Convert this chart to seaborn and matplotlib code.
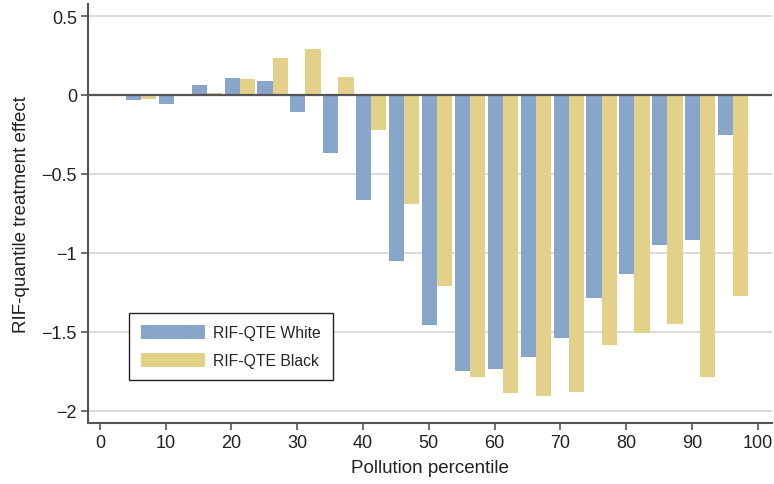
import matplotlib
matplotlib.use("Agg")
import matplotlib.pyplot as plt
import seaborn as sns
import pandas as pd

# RIF-QTE estimates by pollution percentile
percentiles = [5, 10, 15, 20, 25, 30, 35, 40, 45, 50, 55, 60, 65, 70, 75, 80, 85, 90, 95]
qte_white = [-0.03, -0.055, 0.063, 0.107, 0.089, -0.106, -0.365, -0.665, -1.05, -1.456,
             -1.747, -1.732, -1.658, -1.538, -1.285, -1.133, -0.947, -0.916, -0.251]
qte_black = [-0.025, 0.0, 0.01, 0.10, 0.234, 0.291, 0.114, -0.22, -0.69, -1.209,
             -1.785, -1.884, -1.903, -1.878, -1.58, -1.504, -1.449, -1.785, -1.272]
groups = ["RIF-QTE White", "RIF-QTE Black"]
colors = ["#88a6c9", "#e3d18a"]

# black bars sit right next to the white ones
offset = 2.3
df = pd.concat([
    pd.DataFrame({"pct": [p + 0.1 for p in percentiles], "qte": qte_white, "group": groups[0]}),
    pd.DataFrame({"pct": [p + 0.1 + offset for p in percentiles], "qte": qte_black, "group": groups[1]}),
], ignore_index=True)

sns.set_style("white")
plt.rcParams["font.family"] = ["Liberation Sans", "DejaVu Sans"]

fig = plt.figure(figsize=(7.74, 4.85), dpi=100)
ax = fig.add_axes([0.1137, 0.1258, 0.997 - 0.1137, 0.9897 - 0.1258])

sns.barplot(data=df, x="pct", y="qte", hue="group", hue_order=groups,
            palette=colors, native_scale=True, dodge=False, width=1.0,
            errorbar=None, saturation=1, linewidth=0, ax=ax, zorder=2)

ax.set_xlim(-1.8, 102.1)
ax.set_ylim(-2.076, 0.576)
ax.set_xticks(range(0, 101, 10))
ax.set_yticks([0.5, 0, -0.5, -1, -1.5, -2])
ax.set_yticklabels(["0.5", "0", "\u22120.5", "\u22121", "\u22121.5", "\u22122"])

for y in [0.5, -0.5, -1, -1.5, -2]:
    ax.axhline(y, color="#d9d9d9", lw=1.3, zorder=1)
ax.axhline(0, color="#555555", lw=1.6, zorder=3)

for s in ["top", "right"]:
    ax.spines[s].set_visible(False)
for s in ["left", "bottom"]:
    ax.spines[s].set_color("#555555")
    ax.spines[s].set_linewidth(1.5)

ax.tick_params(axis="both", which="major", direction="out", length=5, width=1.2,
               color="#555555", labelsize=13, labelcolor="#222222", pad=3,
               left=True, bottom=True)
ax.set_xlabel("Pollution percentile", fontsize=13.5, color="#222222", labelpad=6)
ax.set_ylabel("RIF-quantile treatment effect", fontsize=13.5, color="#222222", labelpad=8)

handles, labels = ax.get_legend_handles_labels()
leg = ax.legend(handles, labels, loc="upper left", bbox_to_anchor=(0.06, 0.2625),
                fontsize=11.3, frameon=True, fancybox=False, framealpha=1,
                edgecolor="#222222", handlelength=4.1, handleheight=1.0,
                handletextpad=0.5, labelspacing=0.8, borderpad=0.75,
                borderaxespad=0)
leg.get_frame().set_linewidth(1.0)

fig.savefig("out.png", dpi=100)
